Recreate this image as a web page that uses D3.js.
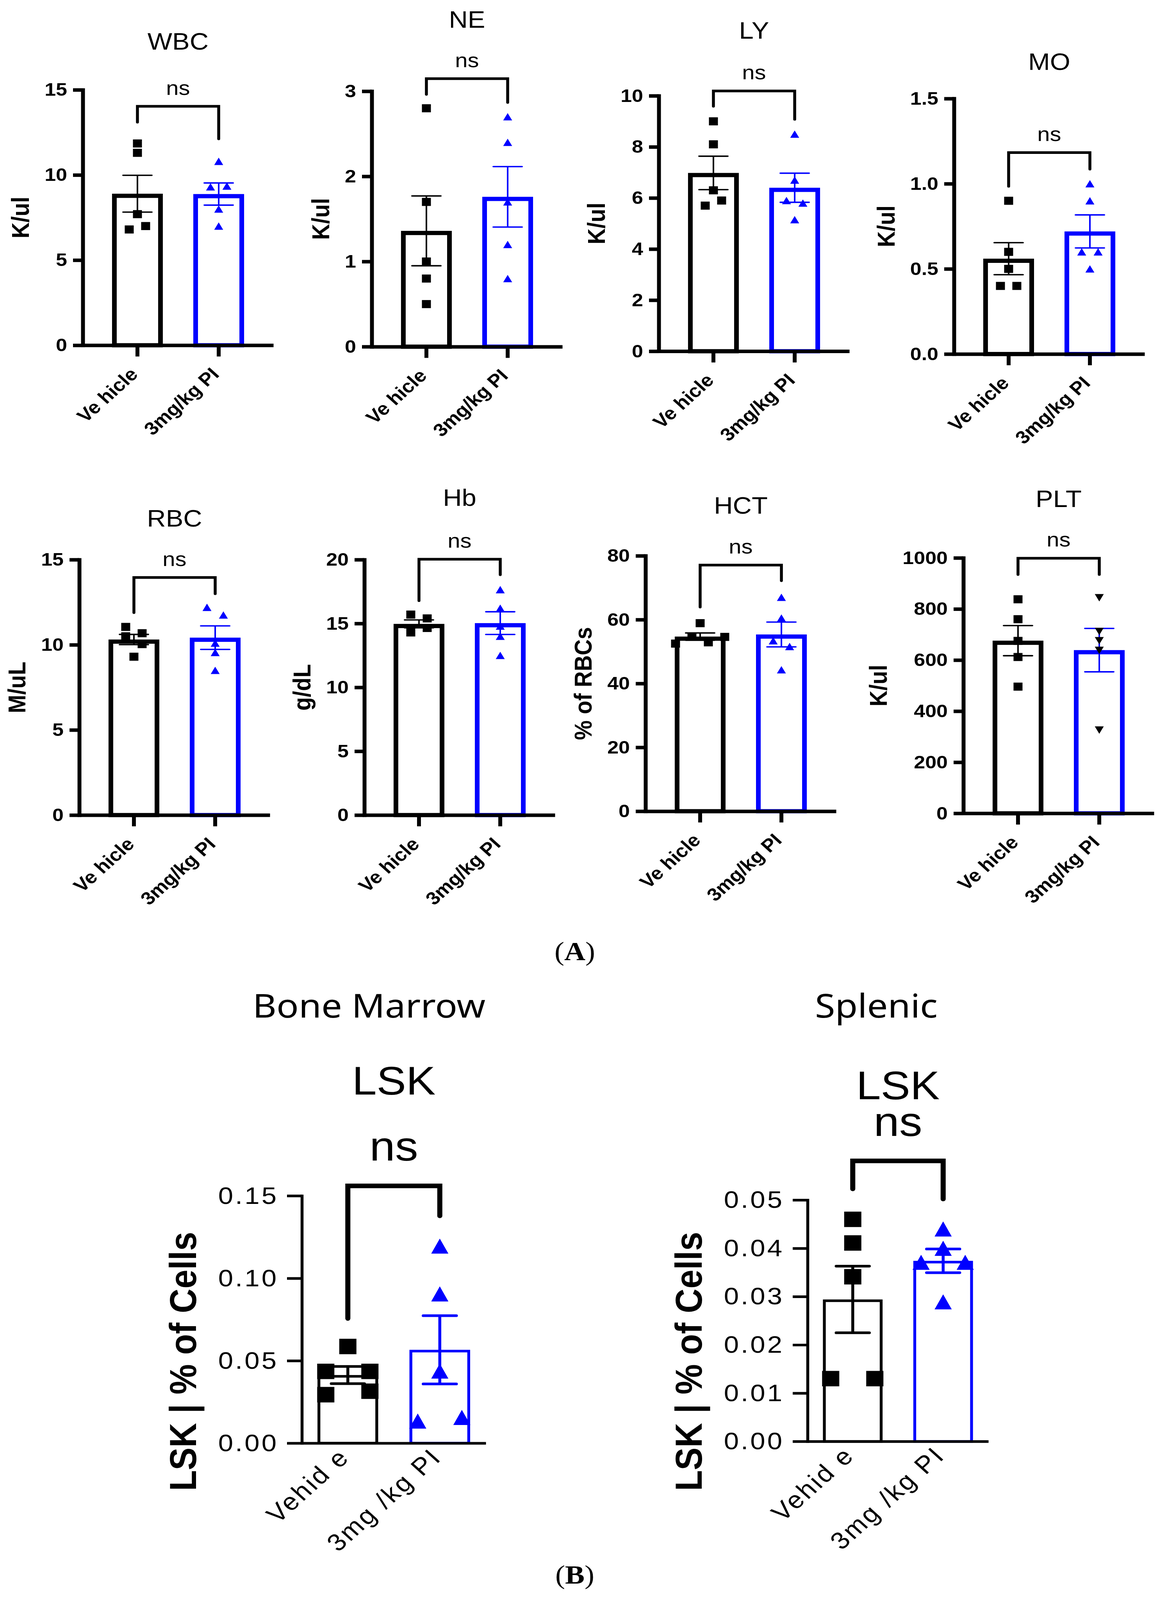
<!DOCTYPE html>
<html>
<head>
<meta charset="utf-8">
<script src="https://cdn.jsdelivr.net/npm/d3@7"></script>
<style>
  html, body { margin: 0; padding: 0; background: #fff; overflow: hidden; height: 100%; }
  svg { display: block; width: 100vw; height: 100vh; }
  text { font-family: "Liberation Sans", Arial, sans-serif; fill: #000; }
</style>
</head>
<body>
<div id="chart"></div>
<script>
// ---- data ----
const groupsTop = ["Ve hicle", "3mg/kg PI"];
const groupsBottom = ["Vehid e", "3mg /kg PI"];

// panel A: blood counts
const cbcNames = ["WBC", "NE", "LY", "MO", "RBC", "Hb", "HCT", "PLT"];
const cbcUnits = ["K/ul", "K/ul", "K/ul", "K/ul", "M/uL", "g/dL", "% of RBCs", "K/ul"];
const cbcMax = [15, 3, 10, 1.5, 15, 20, 80, 1000];
const cbcTicks = [
  [0, 5, 10, 15], [0, 1, 2, 3], [0, 2, 4, 6, 8, 10], [0, 0.5, 1, 1.5],
  [0, 5, 10, 15], [0, 5, 10, 15, 20], [0, 20, 40, 60, 80], [0, 200, 400, 600, 800, 1000]
];
const cbcVehicle = [
  [11.85, 11.3, 7.7, 6.8, 7.0],
  [2.8, 1.7, 1.0, 0.8, 0.5],
  [9.0, 8.1, 6.3, 5.7, 5.9],
  [0.9, 0.6, 0.5, 0.4, 0.4],
  [11.05, 10.68, 10.5, 10.04, 9.3],
  [15.7, 15.4, 14.3, 14.65],
  [58.9, 52.5, 54.7, 52.9, 54.6],
  [838, 760, 675, 612, 496]
];
const cbcDrug = [
  [10.8, 9.3, 9.35, 8.0, 7.0],
  [2.7, 2.4, 1.7, 1.2, 0.8],
  [8.5, 6.7, 5.9, 5.8, 5.15],
  [1.0, 0.9, 0.6, 0.6, 0.5],
  [12.2, 11.75, 10.1, 9.55, 8.5],
  [17.65, 16.2, 14.8, 14.0, 12.5],
  [67.0, 60.5, 53.4, 51.6, 44.3],
  [844, 712, 676, 638, 326]
];
const cbcMean = [[8.9, 8.88], [1.36, 1.76], [6.98, 6.4], [0.56, 0.72], [10.31, 10.42], [14.97, 15.03], [54.7, 55.36], [676, 639]];
const cbcSem = [[1.08, 0.65], [0.41, 0.355], [0.655, 0.57], [0.094, 0.097], [0.3, 0.69], [0.31, 0.89], [1.13, 3.89], [59, 85]];

// panel B: LSK cells
const lskSections = ["Bone Marrow", "Splenic"];
const lskTitle = "LSK";
const lskUnit = "LSK | % of Cells";
const lskMax = [0.15, 0.05];
const lskTicks = [[0, 0.05, 0.10, 0.15], [0, 0.01, 0.02, 0.03, 0.04, 0.05]];
const lskVehicle = [[0.0586, 0.0435, 0.0435, 0.0294, 0.0315], [0.046, 0.0411, 0.0341, 0.013, 0.013]];
const lskDrug = [[0.1195, 0.0905, 0.0437, 0.0134, 0.0156], [0.044, 0.040, 0.0371, 0.0371, 0.0289]];
const lskMean = [[0.0413, 0.0566], [0.0294, 0.0374]];
const lskSem = [[0.0052, 0.0207], [0.0069, 0.00245]];

// ---- layout ----
const BLUE = "#0000ff";
const W = 2968, H = 4560;

const topStyle = {
  axisW: 10, tickLen: 25, xTickLen: 32, tickPad: 15, tickFont: 52, tickWeight: "bold", spacing: 0,
  barW: 12, errW: 4, capW: 74, mark: 23, triW: 23, triH: 21, thr: 25, step: 42, bracketW: 7.5,
  labelFont: 63, labelGap: 40, xdx: 4, xdy: 86, angle: -45, padIn: 0.375, padOut: 0.36,
  titleFont: 67, nsFont: 58, nsGap: 33
};
const botStyle = {
  axisW: 7.5, tickLen: 38, xTickLen: 0, tickPad: 22, tickFont: 69, tickWeight: "normal", spacing: 5,
  barW: 7.3, errW: 7.5, capW: 85, mark: 44, triW: 44, triH: 43, thr: 36, step: 113, bracketW: 13,
  labelFont: 97, labelGap: 57, xdx: 8, xdy: 44, angle: -45, padIn: 0.34, padOut: 0.17,
  titleFont: 113, nsFont: 118
};

const cbcLayout = [
  { x: 212, y0: 984, titleY: 141, bracket: [14.03, 13.1, 12.12] },
  { x: 952, y0: 988, titleY: 79, bracket: [3.148, 2.963, 2.868] },
  { x: 1687, y0: 1001, titleY: 110, bracket: [10.19, 9.59, 9.08] },
  { x: 2443, y0: 1009, titleY: 199, bracket: [1.183, 0.985, 1.086] },
  { x: 203, y0: 2323, titleY: 1501, bracket: [13.95, 11.89, 13.0] },
  { x: 933, y0: 2323, titleY: 1442, bracket: [20.03, 16.79, 18.82] },
  { x: 1653, y0: 2312, titleY: 1464, bracket: [77.1, 63.95, 72.2] },
  { x: 2467, y0: 2318, titleY: 1445, bracket: [998.6, 935, 935], downDrug: true }
];
const lskLayout = [
  { x: 773, y0: 4113, h: 705, w: 471, sectionX: 945, titleY: 3119, nsY: 3308, bracket: [0.156, 0.0756, 0.1378] },
  { x: 2068, y0: 4108, h: 688, w: 463, sectionX: 2244, titleY: 3133, nsY: 3237, bracket: [0.0581, 0.0523, 0.0502] }
];

// drawn in a 2968x4560 frame, stretched to whatever the window shows
const svg = d3.select("#chart").append("svg")
  .attr("viewBox", `0 0 ${W} ${H}`)
  .attr("preserveAspectRatio", "none")
  .style("background", "#fff");

// Prism-like horizontal spreading: points overlapping vertically share a row
function spread(vals, y, thr, step) {
  const order = vals.map((v, i) => i).sort((a, b) => vals[b] - vals[a]);
  const off = vals.map(() => 0);
  let row = [];
  const flush = () => {
    row.sort((a, b) => a - b);
    row.forEach((i, k) => off[i] = (k - (row.length - 1) / 2) * step);
  };
  order.forEach(i => {
    if (row.length && Math.abs(y(vals[row[0]]) - y(vals[i])) >= thr) { flush(); row = []; }
    row.push(i);
  });
  flush();
  return off;
}

function triPath(w, h, down) {
  const s = down ? -1 : 1;
  return `M0,${-s * h / 2}L${w / 2},${s * h / 2}L${-w / 2},${s * h / 2}Z`;
}

function drawPanel(p) {
  const st = p.st;
  const g = svg.append("g");
  const y = d3.scaleLinear().domain([0, p.max]).range([p.y0, p.y0 - p.h]);
  const xb = d3.scaleBand().domain(p.groups).range([p.x, p.x + p.w])
    .paddingInner(st.padIn).paddingOuter(st.padOut);
  const bw = xb.bandwidth();
  const cx = i => xb(p.groups[i]) + bw / 2;

  // bars (outline drawn inside the value)
  g.selectAll("rect").data(p.mean).join("rect")
    .attr("x", (d, i) => xb(p.groups[i]) + st.barW / 2)
    .attr("y", d => y(d) + st.barW / 2)
    .attr("width", bw - st.barW)
    .attr("height", d => p.y0 - y(d) - st.barW / 2)
    .attr("fill", "none")
    .attr("stroke", (d, i) => p.colors[i])
    .attr("stroke-width", st.barW);

  // mean +/- sem
  p.mean.forEach((m, i) => {
    const e = p.sem[i], c = cx(i);
    const eg = g.append("g").attr("stroke", p.colors[i]).attr("stroke-width", st.errW);
    eg.append("line").attr("x1", c).attr("x2", c).attr("y1", y(m - e)).attr("y2", y(m + e));
    [m - e, m + e].forEach(v => eg.append("line")
      .attr("x1", c - st.capW / 2).attr("x2", c + st.capW / 2)
      .attr("y1", y(v)).attr("y2", y(v))
      .attr("stroke-linecap", "round"));
  });

  // individual points
  p.points.forEach((vals, i) => {
    const off = spread(vals, y, st.thr, st.step);
    const shape = p.shapes[i];
    const m = st.mark;
    g.append("g").attr("fill", p.pointColors[i])
      .selectAll("path").data(vals).join("path")
      .attr("transform", (d, k) => `translate(${cx(i) + off[k]},${y(d)})`)
      .attr("d", shape === "square"
        ? `M${-m / 2},${-m / 2}h${m}v${m}h${-m}Z`
        : triPath(st.triW, st.triH, shape === "down"));
  });

  // axes
  const yAx = g.append("g").attr("transform", `translate(${p.x},0)`)
    .call(d3.axisLeft(y).tickValues(p.ticks).tickFormat(p.fmt)
      .tickSizeInner(st.tickLen).tickSizeOuter(0).tickPadding(st.tickPad));
  const xAx = g.append("g").attr("transform", `translate(0,${p.y0})`)
    .call(d3.axisBottom(xb).tickSizeInner(st.xTickLen).tickSizeOuter(0));

  [yAx, xAx].forEach(a => {
    a.attr("font-family", "'Liberation Sans', Arial, sans-serif")
      .attr("font-size", st.tickFont)
      .attr("font-weight", st.tickWeight)
      .attr("letter-spacing", st.spacing);
    a.selectAll("line").attr("stroke", "#000").attr("stroke-width", st.axisW);
    a.selectAll("text").attr("fill", "#000");
  });
  yAx.select(".domain").attr("stroke", "#000").attr("stroke-width", st.axisW).attr("stroke-linecap", "square");
  xAx.select(".domain").attr("stroke", "#000").attr("stroke-width", st.axisW);
  xAx.selectAll("text")
    .attr("x", 0).attr("y", 0).attr("dy", null)
    .attr("text-anchor", "end")
    .attr("transform", `translate(${st.xdx},${st.xdy}) rotate(${st.angle})`);

  // y title
  const bb = yAx.node().getBBox();
  g.append("text")
    .attr("transform", `translate(${p.x + bb.x - st.labelGap},${p.labelY}) rotate(-90)`)
    .attr("text-anchor", "middle")
    .attr("font-weight", "bold")
    .attr("font-size", st.labelFont)
    .text(p.unit);

  // significance bracket
  const [bt, bl, br] = p.bracket;
  g.append("path")
    .attr("d", `M${cx(0)},${y(bl)}V${y(bt)}H${cx(1)}V${y(br)}`)
    .attr("fill", "none").attr("stroke", "#000")
    .attr("stroke-width", st.bracketW).attr("stroke-linecap", "round");

  const mid = (cx(0) + cx(1)) / 2;
  g.append("text").attr("x", mid).attr("y", p.nsY != null ? p.nsY : y(bt) - st.nsGap)
    .attr("text-anchor", "middle").attr("font-size", st.nsFont).text("ns");
  g.append("text").attr("x", mid).attr("y", p.titleY)
    .attr("text-anchor", "middle").attr("font-size", st.titleFont).text(p.title);
}

// panel A
cbcNames.forEach((name, i) => {
  const L = cbcLayout[i];
  drawPanel({
    st: topStyle, x: L.x, y0: L.y0, h: 728, w: 488,
    max: cbcMax[i], ticks: cbcTicks[i],
    fmt: name === "MO" ? d3.format(".1f") : d3.format("d"),
    groups: groupsTop,
    mean: cbcMean[i], sem: cbcSem[i],
    points: [cbcVehicle[i], cbcDrug[i]],
    colors: ["#000", BLUE],
    pointColors: ["#000", L.downDrug ? "#000" : BLUE],
    shapes: ["square", L.downDrug ? "down" : "up"],
    bracket: L.bracket,
    unit: cbcUnits[i], labelY: L.y0 - 364,
    title: name, titleY: L.titleY
  });
});

// panel B
lskSections.forEach((name, i) => {
  const L = lskLayout[i];
  drawPanel({
    st: botStyle, x: L.x, y0: L.y0, h: L.h, w: L.w,
    max: lskMax[i], ticks: lskTicks[i], fmt: d3.format(".2f"),
    groups: groupsBottom,
    mean: lskMean[i], sem: lskSem[i],
    points: [lskVehicle[i], lskDrug[i]],
    colors: ["#000", BLUE],
    pointColors: ["#000", BLUE],
    shapes: ["square", "up"],
    bracket: L.bracket,
    unit: lskUnit, labelY: 3880,
    title: lskTitle, titleY: L.titleY, nsY: L.nsY
  });
  svg.append("text")
    .attr("x", L.sectionX).attr("y", 2900)
    .attr("text-anchor", "middle")
    .style("font-family", "'Noto Sans', 'Open Sans', sans-serif")
    .attr("font-size", 94)
    .text(name);
});

// section letters
[["A", 2737], ["B", 4513]].forEach(([k, yy]) => {
  const t = svg.append("text")
    .attr("x", 1472).attr("y", yy)
    .attr("text-anchor", "middle")
    .style("font-family", "'Liberation Serif', 'Times New Roman', serif")
    .attr("font-size", 75);
  t.append("tspan").text("(");
  t.append("tspan").attr("font-weight", "bold").text(k);
  t.append("tspan").text(")");
});
</script>
</body>
</html>
